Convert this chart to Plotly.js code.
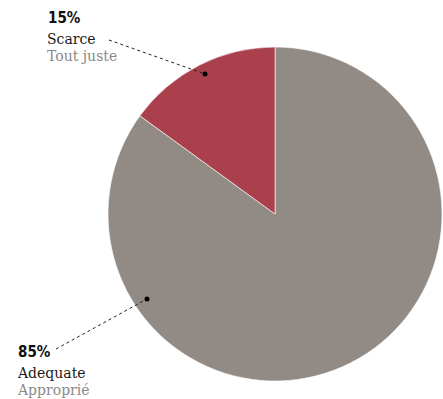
<!DOCTYPE html>
<html><head><meta charset="utf-8">
<script src="https://cdn.plot.ly/plotly-3.0.1.min.js"></script>
<style>html,body{margin:0;padding:0;background:#fff;}#chart{width:443px;height:399px;}</style>
</head><body><div id="chart"></div>
<script>
const categories = ["Adequate", "Scarce"];
const labelsFr = ["Approprié", "Tout juste"];
const values = [85, 15];
const colors = ["#928a85", "#a9404b"];

const W = 443, H = 399;
const px = x => x / W, py = y => 1 - y / H;

const trace = {
  type: "pie",
  labels: categories,
  values: values,
  sort: false,
  direction: "clockwise",
  rotation: 0,
  marker: {colors: colors, line: {color: "#ffffff", width: 0.6}},
  textinfo: "none",
  hoverinfo: "label+percent",
  domain: {x: [px(108), px(442)], y: [py(381), py(47)]}
};

const labelPos = [
  {x: 17, y: 352, line: [56, 349, 147, 299]},
  {x: 47, y: 18, line: [109, 40, 205, 74]}
];

const serif = "'DejaVu Serif', 'Liberation Serif', serif";
const annotations = [];
const shapes = [];
categories.forEach((c, i) => {
  const p = labelPos[i];
  annotations.push({xref: "paper", yref: "paper", x: px(p.x - 1), y: py(p.y), xanchor: "left", yanchor: "middle",
    showarrow: false, text: "<b>" + values[i] + "%</b>",
    font: {family: "'DejaVu Sans Condensed', 'DejaVu Sans'", size: 15, color: "#111"}});
  annotations.push({xref: "paper", yref: "paper", x: px(p.x - 2), y: py(p.y + 21), xanchor: "left", yanchor: "middle",
    showarrow: false, text: c,
    font: {family: serif, size: 14, color: "#1a1a1a"}});
  annotations.push({xref: "paper", yref: "paper", x: px(p.x - 2), y: py(p.y + 38), xanchor: "left", yanchor: "middle",
    showarrow: false, text: labelsFr[i],
    font: {family: serif, size: 14, color: "#8a8a8a"}});
  const L = p.line;
  shapes.push({type: "line", xref: "paper", yref: "paper", x0: px(L[0]), y0: py(L[1]), x1: px(L[2]), y1: py(L[3]),
    line: {color: "#222", width: 1, dash: "dot"}});
  shapes.push({type: "circle", xref: "paper", yref: "paper", x0: px(L[2] - 2.5), x1: px(L[2] + 2.5), y0: py(L[3] + 2.5), y1: py(L[3] - 2.5),
    fillcolor: "#000", line: {color: "#000", width: 0}});
});

const layout = {
  width: W, height: H,
  margin: {l: 0, r: 0, t: 0, b: 0},
  paper_bgcolor: "#fff",
  showlegend: false,
  annotations: annotations,
  shapes: shapes
};
Plotly.newPlot("chart", [trace], layout, {displayModeBar: false, staticPlot: true});
</script></body></html>
